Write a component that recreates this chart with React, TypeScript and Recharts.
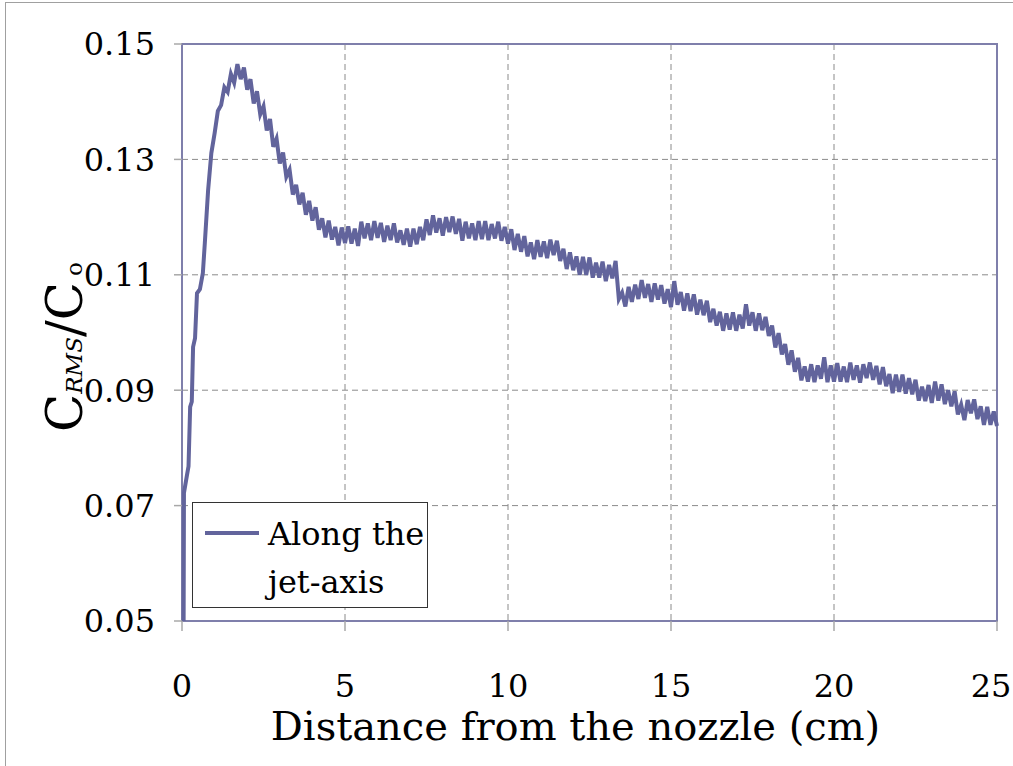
import { LineChart, Line, XAxis, YAxis, CartesianGrid, ReferenceArea, Legend } from "recharts";

// steep rise right after the nozzle exit (cm, C_RMS/C_o)
const riseDistance = [0.05, 0.06, 0.15, 0.2, 0.25, 0.3, 0.34, 0.4, 0.46, 0.55, 0.64];
const riseRatio = [0.05, 0.0722, 0.0752, 0.0768, 0.0871, 0.088, 0.0975, 0.099, 0.1068, 0.1075, 0.1103];

// evenly sampled record from 0.7 cm to 25 cm
const sampleStart = 0.7;
const sampleStep = 0.1;
const sampledRatio = [
  0.1155, 0.1246, 0.1311, 0.1345, 0.1384, 0.1394, 0.1425, 0.1417, 0.1448, 0.1433,
  0.1465, 0.1439, 0.1459, 0.1421, 0.1439, 0.1397, 0.1418, 0.1378, 0.1392, 0.135,
  0.137, 0.1322, 0.1336, 0.1293, 0.1312, 0.127, 0.1282, 0.1239, 0.1256, 0.1222,
  0.1242, 0.1204, 0.1228, 0.1194, 0.1217, 0.1178, 0.1198, 0.1165, 0.1194, 0.1161,
  0.1183, 0.1151, 0.1182, 0.1155, 0.1184, 0.1154, 0.118, 0.115, 0.1192, 0.1163,
  0.1189, 0.116, 0.1193, 0.1164, 0.119, 0.1157, 0.1185, 0.116, 0.1189, 0.1156,
  0.1177, 0.1152, 0.118, 0.1149, 0.118, 0.1153, 0.1183, 0.116, 0.1196, 0.1169,
  0.1203, 0.1173, 0.1198, 0.1168, 0.12, 0.1174, 0.1201, 0.1171, 0.1197, 0.1159,
  0.1192, 0.1163, 0.1189, 0.116, 0.1193, 0.1162, 0.1193, 0.116, 0.1188, 0.1163,
  0.1192, 0.1159, 0.1183, 0.1154, 0.1179, 0.1143, 0.1171, 0.114, 0.1167, 0.1132,
  0.1156, 0.1127, 0.116, 0.1131, 0.1158, 0.1129, 0.1161, 0.1134, 0.1159, 0.1124,
  0.1145, 0.111, 0.1139, 0.1108, 0.1132, 0.11, 0.1131, 0.11, 0.113, 0.1095,
  0.1121, 0.1095, 0.1123, 0.1089, 0.1117, 0.1094, 0.1124, 0.1058, 0.1069, 0.1045,
  0.1079, 0.1053, 0.1083, 0.1058, 0.1091, 0.106, 0.1084, 0.1053, 0.1085, 0.1057,
  0.1082, 0.105, 0.1075, 0.1044, 0.1089, 0.1048, 0.107, 0.1038, 0.1068, 0.1037,
  0.1066, 0.1031, 0.1057, 0.103, 0.1055, 0.1018, 0.1041, 0.1012, 0.1036, 0.1003,
  0.1033, 0.1005, 0.1035, 0.1003, 0.1031, 0.1007, 0.1049, 0.1012, 0.1035, 0.1003,
  0.1033, 0.1004, 0.1027, 0.0994, 0.1012, 0.0974, 0.0999, 0.0962, 0.098, 0.0944,
  0.0969, 0.0932, 0.0956, 0.0917, 0.0941, 0.0915, 0.0945, 0.0914, 0.0943, 0.092,
  0.0957, 0.0914, 0.0943, 0.0915, 0.0947, 0.0915, 0.0941, 0.0914, 0.0948, 0.0918,
  0.0943, 0.0913, 0.0945, 0.0921, 0.0948, 0.0918, 0.0942, 0.091, 0.094, 0.0907,
  0.0928, 0.0895, 0.0927, 0.0897, 0.0927, 0.0894, 0.0921, 0.0893, 0.0918, 0.0882,
  0.0906, 0.0881, 0.0909, 0.0878, 0.0915, 0.0882, 0.091, 0.0876, 0.09, 0.0872,
  0.0898, 0.0858, 0.0875, 0.0848, 0.0883, 0.086, 0.0884, 0.085, 0.0872, 0.084,
  0.0871, 0.084, 0.0863, 0.0838,
];

const xTicks = [0, 5, 10, 15, 20, 25];
const yTicks = [0.05, 0.07, 0.09, 0.11, 0.13, 0.15];
const legendLines = ["Along the", "jet-axis"];

const LINE_COLOR = "#62649c";
const FONT = "'DejaVu Serif', serif";

const data = [
  ...riseDistance.map((d, i) => ({ distance: d, ratio: riseRatio[i] })),
  ...sampledRatio.map((r, i) => ({
    distance: Math.round((sampleStart + i * sampleStep) * 100) / 100,
    ratio: r,
  })),
];

// last label sits against the right edge, nudge it inward a little
const XTick = ({ x, y, payload }: any) => (
  <text
    x={payload.value === 25 ? x - 6 : x}
    y={y}
    dy="0.71em"
    textAnchor="middle"
    fontFamily={FONT}
    fontSize={32}
    fill="#000"
  >
    {payload.value}
  </text>
);

const XTitle = ({ viewBox }: any) => (
  <text
    x={viewBox.x + viewBox.width / 2 - 14}
    y={740}
    textAnchor="middle"
    fontFamily={FONT}
    fontSize={40}
    fill="#000"
  >
    Distance from the nozzle (cm)
  </text>
);

const YTitle = () => (
  <text x={0} y={0} transform="translate(82 432) rotate(-90)" fontFamily={FONT} fill="#000">
    <tspan fontSize={50}>C</tspan>
    <tspan fontSize={23} fontStyle="italic">RMS</tspan>
    <tspan fontSize={50}>/C</tspan>
    <tspan fontSize={23} dx={6}>o</tspan>
  </text>
);

const LegendBox = () => (
  <div
    style={{
      width: 234,
      height: 104,
      border: "1px solid #333",
      background: "#fff",
      position: "relative",
      fontFamily: FONT,
      fontSize: 32,
      lineHeight: "48px",
      color: "#000",
    }}
  >
    <svg width={60} height={10} style={{ position: "absolute", left: 12, top: 25 }}>
      <line x1={0} y1={5} x2={54} y2={5} stroke={LINE_COLOR} strokeWidth={4} />
    </svg>
    <div style={{ position: "absolute", left: 75, top: 7, whiteSpace: "nowrap" }}>
      {legendLines.map((t) => (
        <div key={t}>{t}</div>
      ))}
    </div>
  </div>
);

export default function App() {
  return (
    <div style={{ position: "absolute", left: 0, top: 0, width: 1013, height: 766, background: "#fff" }}>
      <div
        style={{
          position: "absolute",
          left: 5,
          top: 2,
          width: 1013,
          height: 766,
          borderTop: "1.5px solid #a0a0a0",
          borderLeft: "1.5px solid #a0a0a0",
        }}
      />
      <LineChart
        width={1013}
        height={766}
        data={data}
        margin={{ top: 44, right: 16, bottom: 0, left: 0 }}
        style={{ position: "absolute", left: 0, top: 0 }}
      >
        <CartesianGrid stroke="#8a8a8a" strokeDasharray="6 4" />
        <XAxis
          dataKey="distance"
          type="number"
          domain={[0, 25]}
          ticks={xTicks}
          height={145}
          axisLine={false}
          tickLine={{ stroke: "#a8a8a8", strokeWidth: 1.5 }}
          tickSize={10}
          tickMargin={43}
          tick={<XTick />}
          label={<XTitle />}
        />
        <YAxis
          type="number"
          domain={[0.05, 0.15]}
          ticks={yTicks}
          width={182}
          axisLine={false}
          tickLine={{ stroke: "#a8a8a8", strokeWidth: 1.5 }}
          tickSize={8}
          tickMargin={19}
          tickFormatter={(v: number) => v.toFixed(2)}
          tick={{ fontFamily: FONT, fontSize: 32, fill: "#000" }}
          label={<YTitle />}
        />
        <ReferenceArea
          x1={0}
          x2={25}
          y1={0.05}
          y2={0.15}
          fill="none"
          stroke="#7f7fab"
          strokeWidth={2}
          ifOverflow="visible"
        />
        <Legend
          layout="vertical"
          align="center"
          verticalAlign="middle"
          content={<LegendBox />}
          wrapperStyle={{ left: 192, top: 502, width: 236, height: 106 }}
        />
        <Line
          type="linear"
          dataKey="ratio"
          name="Along the jet-axis"
          stroke={LINE_COLOR}
          strokeWidth={4}
          dot={false}
          isAnimationActive={false}
        />
      </LineChart>
    </div>
  );
}
